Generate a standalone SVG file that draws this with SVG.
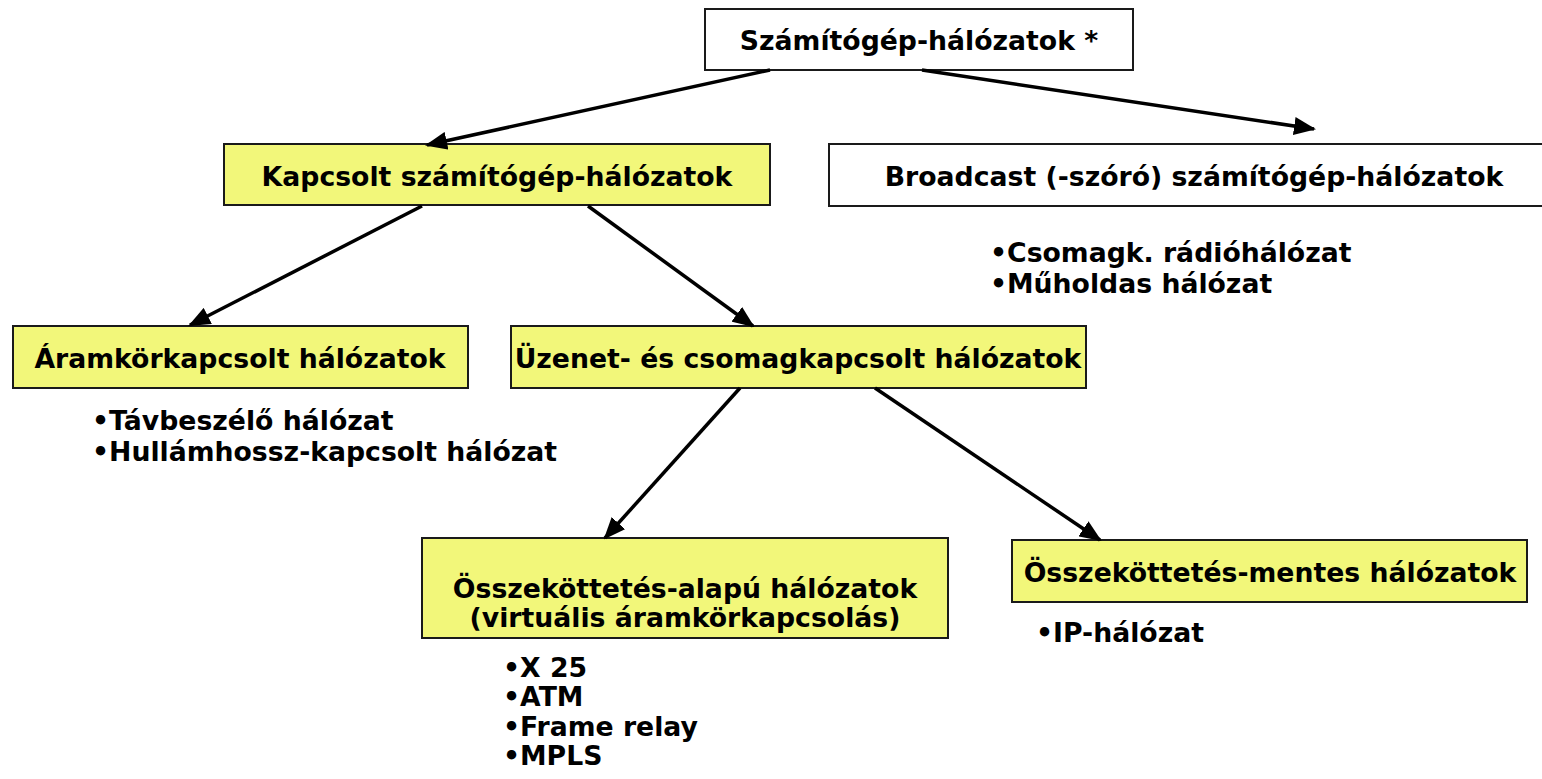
<svg xmlns="http://www.w3.org/2000/svg" width="1542" height="779" viewBox="0 0 1542 779">
<style>
.box{stroke:#1a1a1a;stroke-width:2}
.y{fill:#F2F77A}
.w{fill:#ffffff}
text{font-family:"DejaVu Sans","Verdana",sans-serif;font-weight:bold;font-size:26.7px;fill:#000}
.c{text-anchor:middle}
.conn line{stroke:#000;stroke-width:3.5;marker-end:url(#ah)}
</style>
<defs>
<marker id="ah" markerUnits="userSpaceOnUse" markerWidth="22" markerHeight="18" refX="20" refY="9" orient="auto" viewBox="0 0 22 18">
<path d="M0,0 L22,9 L0,18 Z" fill="#000"/>
</marker>
</defs>
<rect width="1542" height="779" fill="#fff"/>
<g id="n-root"><rect class="box w" x="705" y="9" width="428" height="61"/><text class="c" x="919" y="50">Számítógép-hálózatok *</text></g>
<g id="n-kapcsolt"><rect class="box y" x="224" y="144" width="546" height="61"/><text class="c" x="497" y="186">Kapcsolt számítógép-hálózatok</text></g>
<g id="n-broadcast"><rect class="box w" x="829" y="144" width="720" height="62"/><text class="c" x="1194" y="186">Broadcast (-szóró) számítógép-hálózatok</text></g>
<g id="n-broadcast-list"><text x="990" y="262">•Csomagk. rádióhálózat</text><text x="990" y="293">•Műholdas hálózat</text></g>
<g id="n-aramkor"><rect class="box y" x="13" y="326" width="455" height="62"/><text class="c" x="240" y="368">Áramkörkapcsolt hálózatok</text></g>
<g id="n-aramkor-list"><text x="92" y="430">•Távbeszélő hálózat</text><text x="92" y="461">•Hullámhossz-kapcsolt hálózat</text></g>
<g id="n-uzenet"><rect class="box y" x="511" y="326" width="575" height="62"/><text class="c" x="798" y="368">Üzenet- és csomagkapcsolt hálózatok</text></g>
<g id="n-alapu"><rect class="box y" x="422" y="538" width="526" height="100"/><text class="c" x="685" y="598">Összeköttetés-alapú hálózatok</text><text class="c" x="685" y="627">(virtuális áramkörkapcsolás)</text></g>
<g id="n-alapu-list"><text x="503" y="677">•X 25</text><text x="503" y="706">•ATM</text><text x="503" y="736">•Frame relay</text><text x="503" y="765">•MPLS</text></g>
<g id="n-mentes"><rect class="box y" x="1012" y="540" width="515" height="62"/><text class="c" x="1270" y="582">Összeköttetés-mentes hálózatok</text></g>
<g id="n-mentes-list"><text x="1036" y="642">•IP-hálózat</text></g>
<g id="connectors" class="conn">
<line x1="770" y1="70" x2="427" y2="145"/>
<line x1="922" y1="70" x2="1314" y2="129"/>
<line x1="422" y1="206" x2="190" y2="325"/>
<line x1="588" y1="206" x2="753" y2="326"/>
<line x1="740" y1="388" x2="605" y2="538"/>
<line x1="875" y1="388" x2="1100" y2="540"/>
</g>
</svg>
